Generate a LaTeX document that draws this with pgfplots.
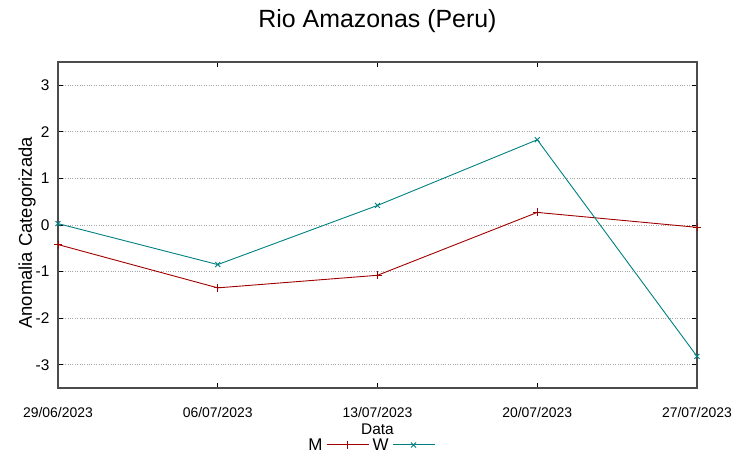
\documentclass[border=0pt]{standalone}
\usepackage{fontspec}
\setmainfont{Liberation Sans}
\usepackage{pgfplots}
\pgfplotsset{compat=1.18}

\definecolor{serM}{RGB}{160,0,0}
\definecolor{serW}{RGB}{0,128,128}

\begin{document}
\begin{tikzpicture}
\begin{axis}[
    name=ax,
    scale only axis,
    width=639bp, height=326bp,
    xmin=0, xmax=4,
    ymin=-3.5, ymax=3.5,
    xtick={0,1,2,3,4},
    xticklabels={29/06/2023,06/07/2023,13/07/2023,20/07/2023,27/07/2023},
    ytick={-3,-2,-1,0,1,2,3},
    /pgf/number format/assume math mode=true,
    tick align=inside,
    major tick length=5bp,
    tick style={black, line width=0.8bp},
    axis line style={black!70, line width=1.1bp},
    ymajorgrids,
    major grid style={gray!70, dotted, line width=0.8bp},
    xticklabel style={font=\fontsize{14}{17}\selectfont, anchor=base, yshift=-30bp},
    yticklabel style={font=\fontsize{15.5}{18}\selectfont, anchor=east, xshift=-5bp},
    title={Rio Amazonas (Peru)},
    title style={font=\fontsize{25}{30}\selectfont, at={([yshift=29bp]axis description cs:0.5,1)}, anchor=base},
    xlabel={Data},
    xlabel style={font=\fontsize{15.5}{18}\selectfont, inner ysep=0pt, at={([yshift=-47bp]axis description cs:0.5,0)}, anchor=base},
    ylabel={Anomalia Categorizada},
    ylabel style={font=\fontsize{18.5}{22}\selectfont, at={([xshift=-26bp,yshift=-8bp]axis description cs:0,0.5)}, anchor=base},
    legend plot pos=right,
    legend columns=-1,
    legend style={draw=none, fill=none, font=\fontsize{17}{20}\selectfont,
        at={([xshift=312bp,yshift=-57bp]axis description cs:0,0)}, anchor=center,
        inner sep=0pt, nodes={inner xsep=3.5bp, inner ysep=0pt},
        /tikz/every even column/.append style={column sep=0bp}},
    clip=false,
]
\addplot[color=serM, line width=0.9bp, mark=+, mark size=4bp, mark options={solid},
    legend image code/.code={
        \draw[serM, line width=1bp] (0bp,0bp) -- (42bp,0bp);
        \draw[serM, line width=0.9bp] (21bp,-4bp) -- (21bp,4bp);}] coordinates {
    (0,-0.42) (1,-1.35) (2,-1.08) (3,0.27) (4,-0.05)
};
\addlegendentry{M}
\addplot[color=serW, line width=0.9bp, mark=x, mark size=3.5bp, mark options={solid},
    legend image code/.code={
        \draw[serW, line width=1bp] (0bp,0bp) -- (42bp,0bp);
        \draw[serW, line width=0.9bp] (18.5bp,-2.5bp) -- (23.5bp,2.5bp) (18.5bp,2.5bp) -- (23.5bp,-2.5bp);}] coordinates {
    (0,0.03) (1,-0.85) (2,0.42) (3,1.83) (4,-2.82)
};
\addlegendentry{W}
\end{axis}
\pgfresetboundingbox
\path ([xshift=-58bp,yshift=-70bp]ax.south west) rectangle ([xshift=56bp,yshift=62bp]ax.north east);
\end{tikzpicture}
\end{document}
